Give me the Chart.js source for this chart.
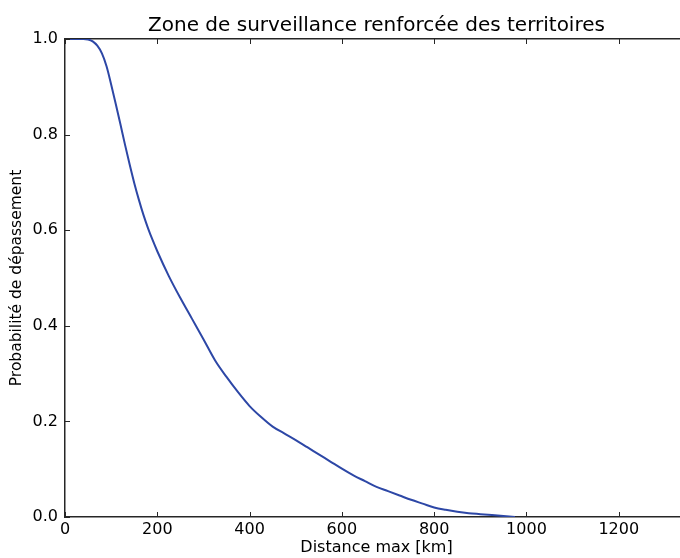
<!DOCTYPE html>
<html lang="fr">
<head>
<meta charset="UTF-8">
<title>Zone de surveillance renforcée des territoires</title>
<script src="https://cdn.jsdelivr.net/npm/chart.js@4.4.3/dist/chart.umd.min.js"></script>
<style>
  html, body { margin: 0; padding: 0; background: #fff; overflow: hidden; }
  #wrap { width: 700px; height: 558px; position: relative; }
</style>
</head>
<body>
<div id="wrap"><canvas id="chart"></canvas></div>
<script>
// distance max (km) et probabilité de dépassement
const distances = [0, 20, 40, 50, 60, 70, 80, 90, 100, 110, 120, 130, 140, 150, 160, 170, 180, 190,
  200, 225, 250, 275, 300, 325, 350, 375, 400, 425, 450, 475, 500, 525, 550, 575, 600, 625, 650,
  675, 700, 725, 750, 775, 800, 825, 850, 875, 900, 925, 950, 975];
const probabilites = [1.0, 1.0, 1.0, 0.999, 0.995, 0.986, 0.970, 0.943, 0.905, 0.864, 0.822, 0.779,
  0.738, 0.699, 0.664, 0.632, 0.604, 0.579, 0.556, 0.504, 0.458, 0.415, 0.372, 0.328, 0.293,
  0.261, 0.232, 0.209, 0.189, 0.175, 0.161, 0.146, 0.131, 0.116, 0.101, 0.087, 0.075, 0.063,
  0.054, 0.045, 0.036, 0.028, 0.020, 0.015, 0.011, 0.008, 0.006, 0.004, 0.002, 0.0];
const xTicks = [0, 200, 400, 600, 800, 1000, 1200];
const yTicks = [0.0, 0.2, 0.4, 0.6, 0.8, 1.0];
const titre = 'Zone de surveillance renforcée des territoires';
const xLabel = 'Distance max [km]';
const yLabel = 'Probabilité de dépassement';

const police = "'DejaVu Sans', sans-serif";
const axe = '#262626';

// petits traits de graduation vers l'intérieur, façon matplotlib
const graduations = {
  id: 'graduations',
  afterDraw(chart) {
    const { ctx, chartArea, scales } = chart;
    const len = 5;
    ctx.save();
    ctx.strokeStyle = axe;
    ctx.lineWidth = 1;
    ctx.beginPath();
    xTicks.forEach(v => {
      const px = Math.round(scales.x.getPixelForValue(v)) + 0.5;
      ctx.moveTo(px, chartArea.bottom);
      ctx.lineTo(px, chartArea.bottom - len);
      ctx.moveTo(px, chartArea.top);
      ctx.lineTo(px, chartArea.top + len);
    });
    yTicks.forEach(v => {
      const py = Math.round(scales.y.getPixelForValue(v)) + 0.5;
      ctx.moveTo(chartArea.left, py);
      ctx.lineTo(chartArea.left + len, py);
    });
    ctx.stroke();
    ctx.restore();
  }
};

new Chart(document.getElementById('chart'), {
  type: 'line',
  data: {
    datasets: [{
      data: distances.map((d, i) => ({ x: d, y: probabilites[i] })),
      borderColor: '#2d47a6',
      borderWidth: 2,
      pointRadius: 0,
      cubicInterpolationMode: 'monotone',
      fill: false
    }]
  },
  options: {
    responsive: true,
    maintainAspectRatio: false,
    animation: false,
    layout: { padding: { right: 12 } },
    plugins: {
      legend: { display: false },
      tooltip: { enabled: false }
    },
    scales: {
      x: {
        type: 'linear',
        position: 'bottom',
        min: 0,
        max: 1350,
        afterBuildTicks: s => { s.ticks = xTicks.map(v => ({ value: v })); },
        afterFit: s => { s.height = 41; },
        grid: { display: true, drawOnChartArea: false, drawTicks: false },
        border: { display: true, color: axe, width: 1.5 },
        ticks: {
          color: '#000',
          padding: 3,
          maxRotation: 0,
          font: { family: police, size: 16 },
          callback: v => String(v)
        },
        title: {
          display: true,
          text: xLabel,
          color: '#000',
          font: { family: police, size: 16 },
          padding: { top: 0, bottom: 1 }
        }
      },
      haut: {
        type: 'linear',
        position: 'top',
        display: true,
        min: 0,
        max: 1350,
        afterFit: s => { s.height = 39; },
        grid: { display: true, drawOnChartArea: false, drawTicks: false },
        border: { display: true, color: axe, width: 1.5 },
        ticks: { display: false },
        title: {
          display: true,
          text: titre,
          color: '#000',
          font: { family: police, size: 20 },
          padding: { top: 14, bottom: 0 }
        }
      },
      y: {
        min: 0,
        max: 1,
        afterBuildTicks: s => { s.ticks = yTicks.map(v => ({ value: v })); },
        afterFit: s => { s.width = 65; },
        grid: { display: true, drawOnChartArea: false, drawTicks: false },
        border: { display: true, color: axe, width: 1.5 },
        ticks: {
          color: '#000',
          padding: 7,
          font: { family: police, size: 16 },
          callback: v => v.toFixed(1)
        },
        title: {
          display: true,
          text: yLabel,
          color: '#000',
          font: { family: police, size: 15.5 },
          padding: { top: 8, bottom: 0 }
        }
      }
    }
  },
  plugins: [graduations]
});
</script>
</body>
</html>
